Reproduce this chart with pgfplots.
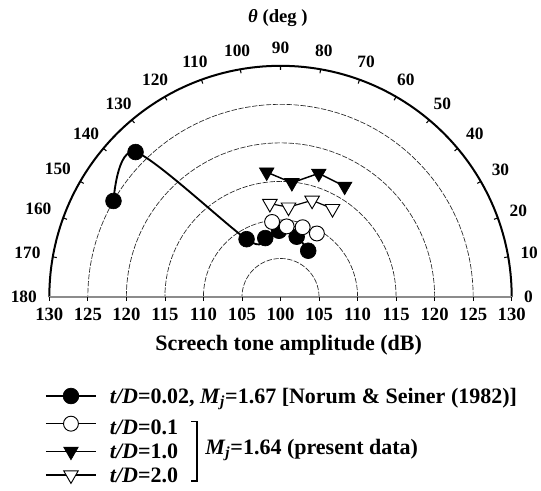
\documentclass[border=0pt]{standalone}
\usepackage{fontspec}
\setmainfont{Liberation Serif}
\usepackage{pgfplots}
\usepackage{pgfplotstable}
\pgfplotsset{compat=1.18}
\usepgfplotslibrary{polar}
\usetikzlibrary{calc}

% angle (deg) and screech tone amplitude (dB)
\pgfplotstableread{
ang db
150.1 125.0
135.0 126.6
120.4 108.7
104.5 107.9
91.3 108.6
75.0 108.1
59.1 107.0
}\normsein
\pgfplotstableread{
ang db
96.4 109.8
85.0 109.2
72.4 109.5
60.2 109.5
}\tdzeroone
\pgfplotstableread{
ang db
96.3 116.3
84.3 114.9
72.8 116.8
59.9 116.6
}\tdone
\pgfplotstableread{
ang db
96.5 112.2
84.9 111.7
71.9 113.2
59.5 113.3
}\tdtwo

\newcommand\bigfont{\bfseries\fontsize{16.5}{18}\selectfont}

\begin{document}
\begin{tikzpicture}[font=\bfseries\fontsize{14}{16}\selectfont]
\begin{polaraxis}[
  scale only axis, width=346.8pt, height=346.8pt,
  xmin=0, xmax=180, ymin=0, ymax=30,
  clip=false,
  xtick={0,10,...,180}, xticklabels={},
  ytick={5,10,...,25}, yticklabels={},
  major y tick style={draw=none},
  xtick align=outside, major tick length=3pt,
  major x tick style={black, line width=0.8pt},
  ymajorgrids, xmajorgrids=false,
  major y grid style={black!85, line width=0.5pt, dash pattern=on 4pt off 1.2pt},
  axis line style={black, line width=1.5pt},
  legend style={draw=none, fill=none, inner sep=0pt, outer sep=0pt,
    at={(axis cs:180,30)}, anchor=north west, xshift=-3.2pt, yshift=-67.5pt,
    row sep=4.25pt, column sep=9.75pt,
    nodes={inner sep=0pt, font=\bigfont}},
  legend cell align=left,
  legend image code/.code={%
    \draw[mark repeat=2, mark phase=2, #1] plot coordinates {(0pt,0pt) (18.75pt,0pt) (37.5pt,0pt)};},
]
\addplot[black, line width=1.4pt, smooth, mark=*, mark size=5.9pt,
  mark options={solid, fill=black, line width=0.5pt}]
  table[x=ang, y expr=\thisrow{db}-100] {\normsein};
\addlegendentry{\rule[-4pt]{0pt}{16pt}\textit{t/D}=0.02, \textit{M}\textsubscript{\textit{j}}=1.67 [Norum \& Seiner (1982)]}
\addplot[black, line width=0.9pt, mark=*, mark size=5.6pt,
  mark options={solid, fill=white, line width=0.7pt}]
  table[x=ang, y expr=\thisrow{db}-100] {\tdzeroone};
\addlegendentry{\rule[-4pt]{0pt}{22pt}\textit{t/D}=0.1}
\addplot[black, line width=1.1pt, mark=triangle*, mark size=6.3pt,
  mark options={solid, rotate=180, fill=black, line width=0.5pt}]
  table[x=ang, y expr=\thisrow{db}-100] {\tdone};
\addlegendentry{\rule[-4pt]{0pt}{16pt}\textit{t/D}=1.0}
\addplot[black, line width=0.9pt, mark=triangle*, mark size=6.3pt,
  mark options={solid, rotate=180, fill=white, line width=0.7pt}]
  table[x=ang, y expr=\thisrow{db}-100] {\tdtwo};
\addlegendentry{\rule[-4pt]{0pt}{16pt}\textit{t/D}=2.0}
\coordinate (O) at (axis cs:0,0);
\coordinate (E) at (axis cs:0,30);
\coordinate (W) at (axis cs:180,30);
\end{polaraxis}

% angle labels around the outer arc
\foreach \a in {0,10,...,180} {
  \pgfmathtruncatemacro\b{\a+180}
  \node[anchor=\b, inner sep=1pt, font=\bfseries\fontsize{13}{15}\selectfont]
    at ($(O)+(\a:181.6pt)$) {\a};
}

% base line with its ticks and amplitude labels
\draw[black!45, line width=2.2pt] (W) -- (E);
\foreach \r in {0,5,...,30} {
  \draw[black, line width=0.6pt] ($(O)!{\r/30}!(E)$) -- ++(0,-3pt);
  \draw[black, line width=0.6pt] ($(O)!{\r/30}!(W)$) -- ++(0,-3pt);
}
\foreach \r/\t in {5/105,10/110,15/115,20/120,25/125,30/130} {
  \node at ($($(O)!{\r/30}!(E)$)+(0,-13.2pt)$) {\t};
  \node at ($($(O)!{\r/30}!(W)$)+(0,-13.2pt)$) {\t};
}
\node at ($(O)+(0,-13.2pt)$) {100};
\node[anchor=west, inner sep=0pt, font=\bigfont] at ($(O)+(-94.1pt,-36pt)$) {Screech tone amplitude (dB)};
\node at ($(O)+(-1.9pt,209.25pt)$) {\textit{θ} (deg )};

% bracket grouping the present data
\draw[black, line width=1.1pt] ($(O)+(-67.1pt,-93.5pt)$) -- ($(O)+(-62.6pt,-93.5pt)$)
  -- ($(O)+(-62.6pt,-138pt)$) -- ($(O)+(-67.1pt,-138pt)$);
\node[anchor=west, inner sep=0pt, font=\bigfont] at ($(O)+(-56.6pt,-114.75pt)$) {\textit{M}\textsubscript{\textit{j}}=1.64 (present data)};

\pgfresetboundingbox
\path[use as bounding box] ($(O)+(-210.375pt,222.75pt)$) rectangle ($(O)+(195.375pt,-144.75pt)$);
\end{tikzpicture}
\end{document}
